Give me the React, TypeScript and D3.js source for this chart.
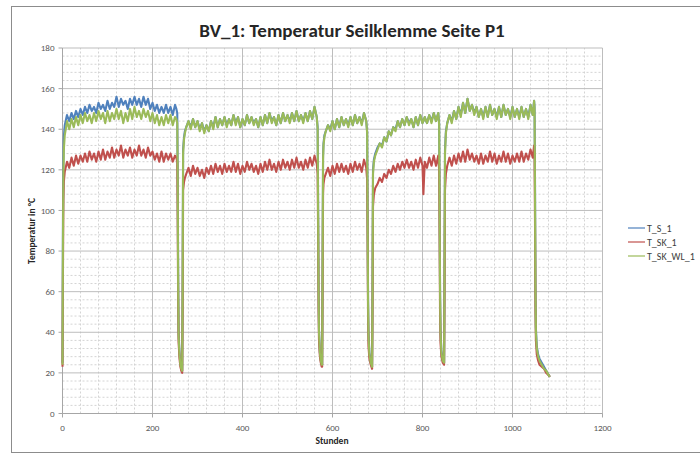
import * as d3 from 'd3';

// Time axis (hours); segments separated by the cool-down dips
const hours = [
  // run 1
  0, 1, 2, 3, 5, 8,
  10, 15, 20, 25, 30, 35, 40, 45, 50, 55,
  60, 65, 70, 75, 80, 85, 90, 95, 100, 105,
  110, 115, 120, 125, 130, 135, 140, 145, 150, 155,
  160, 165, 170, 175, 180, 185, 190, 195, 200, 205,
  210, 215, 220, 225, 230, 235, 240, 245, 250, 253,
  255, 256, 257, 258, 260, 262, 264, 266,
  // run 2
  267, 268, 270, 272, 275,
  280, 285, 290, 295, 300, 305, 310, 315, 320, 325,
  330, 335, 340, 345, 350, 355, 360, 365, 370, 375,
  380, 385, 390, 395, 400, 405, 410, 415, 420, 425,
  430, 435, 440, 445, 450, 455, 460, 465, 470, 475,
  480, 485, 490, 495, 500, 505, 510, 515, 520, 525,
  530, 535, 540, 545, 550, 555, 560, 565,
  567, 568, 569, 570, 572, 574, 576, 577,
  // run 3
  578, 579, 580, 582, 585,
  590, 595, 600, 605, 610, 615, 620, 625, 630, 635,
  640, 645, 650, 655, 660, 665, 670, 675,
  677, 678, 679, 680, 682, 685, 688,
  // run 4
  689, 690, 692, 695,
  700, 705, 710, 715, 720, 725, 730, 735, 740, 745,
  750, 755, 760, 765, 770, 775, 780, 785, 790, 795,
  800, 802, 805, 810, 815, 820, 825, 830, 835,
  837, 838, 839, 840, 842, 845, 848,
  // run 5
  849, 850, 852, 855,
  860, 865, 870, 875, 880, 885, 890, 895, 900, 905,
  910, 915, 920, 925, 930, 935, 940, 945, 950, 955,
  960, 965, 970, 975, 980, 985, 990, 995, 1000, 1005,
  1010, 1015, 1020, 1025, 1030, 1035, 1040, 1045, 1048,
  1049, 1050, 1051, 1052, 1054, 1057, 1060, 1065, 1070, 1075, 1080, 1083,
];

const tS1 = [
  25, 95, 125, 136, 142, 145,
  147, 144, 148, 145, 149, 146, 150, 147, 151, 148,
  152, 149, 151, 148, 153, 150, 152, 149, 154, 150,
  153, 151, 156, 151, 155, 152, 154, 150, 155, 152,
  156, 152, 155, 151, 156, 152, 155, 150, 153, 149,
  152, 148, 151, 148, 152, 148, 151, 147, 152, 150,
  148, 120, 70, 40, 30, 25, 22, 21,
  65, 130, 136, 139, 141,
  144, 141, 145, 141, 144, 140, 143, 139, 142, 139,
  144, 141, 146, 141, 145, 142, 146, 142, 145, 142,
  147, 143, 146, 141, 145, 142, 147, 143, 146, 143,
  145, 141, 146, 142, 147, 143, 148, 144, 146, 142,
  147, 143, 148, 144, 147, 144, 148, 144, 149, 144,
  147, 144, 148, 144, 149, 145, 151, 146,
  141, 105, 62, 41, 30, 26, 25, 24,
  75, 127, 133, 137, 139,
  142, 140, 144, 140, 145, 141, 146, 142, 145, 142,
  146, 142, 147, 143, 146, 143, 148, 144,
  139, 100, 58, 40, 30, 25, 23,
  65, 120, 125, 128,
  131, 133, 132, 136, 134, 139, 137, 141, 140, 144,
  141, 145, 142, 146, 143, 145, 141, 146, 142, 147,
  143, 144, 146, 143, 147, 144, 148, 144, 148,
  143, 105, 62, 41, 31, 26, 25,
  75, 130, 139, 143,
  147, 144, 149, 145, 151, 147, 153, 148, 155, 149,
  152, 148, 151, 146, 150, 146, 151, 146, 152, 147,
  150, 146, 151, 146, 152, 147, 150, 146, 151, 146,
  150, 146, 151, 146, 150, 146, 152, 147, 154,
  151, 115, 62, 42, 33, 29, 27, 25, 23, 21, 19, 18,
];

const tSK1 = [
  23, 70, 105, 114, 119, 122,
  124, 121, 126, 122, 127, 123, 127, 124, 128, 124,
  129, 125, 128, 124, 129, 125, 130, 125, 129, 126,
  131, 126, 130, 127, 132, 126, 130, 127, 131, 126,
  130, 127, 132, 127, 130, 126, 131, 127, 129, 125,
  128, 124, 129, 124, 128, 125, 128, 124, 127, 126,
  124, 95, 55, 35, 27, 23, 21, 20,
  50, 110, 114, 116, 118,
  121, 117, 122, 118, 121, 117, 120, 116, 121, 118,
  122, 118, 123, 119, 122, 118, 123, 119, 122, 119,
  124, 119, 123, 118, 122, 119, 124, 120, 123, 119,
  122, 118, 123, 119, 124, 120, 125, 120, 123, 119,
  124, 120, 125, 121, 124, 120, 125, 121, 126, 121,
  124, 120, 125, 121, 126, 122, 127, 123,
  118, 90, 52, 36, 28, 25, 23, 23,
  60, 108, 113, 116, 118,
  121, 117, 122, 118, 123, 119, 123, 119, 122, 118,
  123, 119, 124, 120, 123, 119, 125, 121,
  115, 85, 48, 33, 27, 24, 22,
  50, 102, 108, 111,
  113, 116, 114, 118, 116, 120, 118, 122, 119, 123,
  120, 124, 121, 125, 121, 124, 120, 125, 121, 126,
  122, 108, 124, 121, 126, 122, 127, 122, 127,
  120, 88, 50, 35, 28, 25, 24,
  60, 110, 118, 122,
  126, 122, 127, 123, 128, 124, 129, 124, 130, 125,
  128, 124, 127, 123, 128, 123, 127, 124, 129, 124,
  128, 123, 127, 124, 129, 124, 128, 123, 127, 124,
  128, 124, 129, 124, 128, 125, 130, 126, 132,
  127, 95, 52, 36, 29, 26, 24, 23, 22, 20, 19, 18,
];

const tSKWL1 = [
  24, 85, 118, 130, 137, 141,
  144, 140, 145, 141, 146, 142, 147, 143, 148, 144,
  147, 143, 148, 144, 149, 145, 148, 143, 149, 144,
  148, 145, 150, 145, 149, 143, 148, 144, 150, 145,
  151, 146, 149, 145, 150, 146, 149, 144, 148, 143,
  147, 142, 146, 142, 147, 143, 147, 142, 146, 145,
  143, 115, 65, 38, 29, 24, 22, 21,
  60, 128, 135, 138, 141,
  144, 140, 145, 141, 144, 139, 143, 138, 142, 139,
  144, 140, 146, 141, 145, 142, 146, 141, 145, 142,
  147, 142, 146, 141, 145, 142, 147, 143, 146, 142,
  145, 141, 146, 142, 147, 143, 148, 143, 146, 142,
  147, 143, 148, 144, 147, 143, 148, 144, 149, 144,
  147, 143, 148, 144, 149, 145, 151, 146,
  140, 100, 60, 40, 30, 26, 24, 24,
  70, 125, 132, 136, 139,
  142, 139, 144, 140, 145, 141, 146, 142, 145, 141,
  146, 142, 147, 143, 146, 142, 148, 144,
  138, 95, 55, 38, 29, 25, 23,
  60, 118, 124, 127,
  130, 133, 131, 136, 134, 139, 137, 141, 139, 144,
  141, 145, 142, 146, 142, 145, 141, 146, 142, 147,
  143, 144, 146, 143, 147, 143, 148, 144, 148,
  142, 100, 60, 40, 30, 26, 25,
  70, 128, 138, 143,
  147, 143, 149, 145, 151, 146, 153, 148, 155, 149,
  152, 147, 151, 146, 150, 145, 151, 146, 152, 147,
  150, 145, 151, 146, 152, 147, 150, 145, 151, 146,
  150, 145, 151, 146, 150, 145, 152, 147, 154,
  150, 110, 60, 40, 32, 28, 26, 24, 22, 21, 19, 18,
];

const seriesNames = ['T_S_1', 'T_SK_1', 'T_SK_WL_1'];
const seriesColors = ['#4f81bd', '#c0504d', '#9bbb59'];
const seriesValues = [tS1, tSK1, tSKWL1];

const xTicks = [0, 200, 400, 600, 800, 1000, 1200];
const yTicks = [0, 20, 40, 60, 80, 100, 120, 140, 160, 180];

const W = 700;
const H = 455;
const FONT = "Carlito, Lato, 'Open Sans', sans-serif";

export default function App() {
  const x = d3.scaleLinear().domain([0, 1200]).range([62.5, 602.5]);
  const y = d3.scaleLinear().domain([0, 180]).range([413.5, 48]);

  const minorX = d3.range(0, 1201, 40).filter((v) => v % 200 !== 0);
  const minorY = d3.range(0, 181, 4).filter((v) => v % 20 !== 0);

  const line = d3
    .line<[number, number]>()
    .x((d) => x(d[0]))
    .y((d) => y(d[1]));

  return (
    <svg
      width={W}
      height={H}
      style={{ position: 'absolute', left: 0, top: 0, background: '#fff' }}
      fontFamily={FONT}
    >
      <rect x={11.5} y={6.5} width={720} height={446} fill="#fff" stroke="#8c8c8c" />

      <text
        x={352}
        y={37}
        textAnchor="middle"
        fontSize={19}
        fontWeight="bold"
        fill="#262626"
      >
        BV_1: Temperatur Seilklemme Seite P1
      </text>

      {/* minor grid */}
      {minorX.map((v) => (
        <line key={'mx' + v} x1={x(v)} x2={x(v)} y1={y(0)} y2={y(180)}
          stroke="#d4d4d4" strokeDasharray="2,2" />
      ))}
      {minorY.map((v) => (
        <line key={'my' + v} x1={x(0)} x2={x(1200)} y1={y(v)} y2={y(v)}
          stroke="#d4d4d4" strokeDasharray="2,2" />
      ))}
      {/* major grid */}
      {xTicks.map((v) => (
        <line key={'gx' + v} x1={x(v)} x2={x(v)} y1={y(0)} y2={y(180)} stroke="#bdbdbd" />
      ))}
      {yTicks.map((v) => (
        <line key={'gy' + v} x1={x(0)} x2={x(1200)} y1={y(v)} y2={y(v)} stroke="#bdbdbd" />
      ))}

      {/* axes */}
      <line x1={x(0)} x2={x(0)} y1={y(0)} y2={y(180)} stroke="#a6a6a6" />
      <line x1={x(0)} x2={x(1200)} y1={y(0)} y2={y(0)} stroke="#a6a6a6" />
      {yTicks.map((v) => (
        <g key={'ty' + v}>
          <line x1={x(0) - 4} x2={x(0)} y1={y(v)} y2={y(v)} stroke="#a6a6a6" />
          <text x={x(0) - 8} y={y(v)} dy="0.35em" textAnchor="end" fontSize={9} fill="#595959">
            {v}
          </text>
        </g>
      ))}
      {xTicks.map((v) => (
        <g key={'tx' + v}>
          <line x1={x(v)} x2={x(v)} y1={y(0)} y2={y(0) + 4} stroke="#a6a6a6" />
          <text x={x(v)} y={y(0) + 17} textAnchor="middle" fontSize={9} fill="#595959">
            {v}
          </text>
        </g>
      ))}

      {/* series */}
      {seriesValues.map((vals, i) => {
        const pts: [number, number][] = hours
          .slice(0, vals.length)
          .map((h, k) => [h, vals[k]]);
        return (
          <path key={seriesNames[i]} d={line(pts) || ''} fill="none"
            stroke={seriesColors[i]} strokeWidth={2.1} strokeLinejoin="round" />
        );
      })}

      <text
        transform={`translate(35, 231) rotate(-90)`}
        textAnchor="middle"
        fontSize={9.5}
        fontWeight="bold"
        fill="#262626"
      >
        Temperatur in °C
      </text>
      <text x={332} y={444} textAnchor="middle" fontSize={9.5} fontWeight="bold" fill="#262626">
        Stunden
      </text>

      {/* legend */}
      {seriesNames.map((name, i) => (
        <g key={'lg' + name} transform={`translate(628, ${228 + i * 14})`}>
          <line x1={0} x2={17} y1={0} y2={0} stroke={seriesColors[i]} strokeWidth={1.2} />
          <text x={19} y={0} dy="0.35em" fontSize={10} fill="#404040">
            {name}
          </text>
        </g>
      ))}
    </svg>
  );
}
